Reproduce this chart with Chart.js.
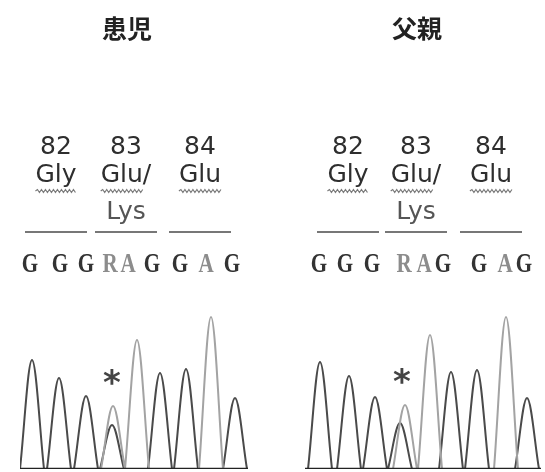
<!DOCTYPE html>
<html>
<head>
<meta charset="utf-8">
<script src="https://cdn.jsdelivr.net/npm/chart.js"></script>
<style>
  html, body { margin: 0; padding: 0; background: #fff; }
  #wrap { position: relative; width: 545px; height: 472px; }
  #childChart { position: absolute; left: 0; top: 0; }
  #fatherChart { position: absolute; left: 272px; top: 0; }
</style>
</head>
<body>
<div id="wrap">
  <canvas id="childChart" width="272" height="472"></canvas>
  <canvas id="fatherChart" width="273" height="472"></canvas>
</div>
<script>
// codons shown above both traces
var codonNumbers = ['82', '83', '84'];
var aminoAcids = [['Gly'], ['Glu/', 'Lys'], ['Glu']];
var baseCalls = ['G', 'G', 'G', 'R', 'A', 'G', 'G', 'A', 'G'];

// 患児 - peaks in scan units, heights in signal units
var childGPos = [12, 39, 66, 92, 140, 166, 215];
var childGHeight = [109, 91, 73, 44, 96, 100, 71];
var childAPos = [93, 117, 191];
var childAHeight = [63, 129, 152];
var childCallPos = [10, 40, 66, 90, 108, 132, 160, 186, 212];
var childCodonPos = [36, 106, 180];
var childScan = [0, 228];
var childMark = 92;

// 父親
var fatherGPos = [15, 44, 70, 95, 146, 172, 222];
var fatherGHeight = [107, 93, 72, 46, 97, 99, 71];
var fatherAPos = [100, 125, 201];
var fatherAHeight = [64, 134, 152];
var fatherCallPos = [14, 40, 67, 99, 119, 138, 174, 200, 219];
var fatherCodonPos = [43, 111, 186];
var fatherScan = [0, 236];
var fatherMark = 97;

var peakHalfWidth = 12;   // scan units from apex to foot
var codonHalfSpan = 31;   // half length of the bar over a codon
var signalMax = 160;

// one peak = left foot, apex, right foot, then a gap
function trace(pos, height) {
  var pts = [];
  for (var i = 0; i < pos.length; i++) {
    pts.push({x: pos[i] - peakHalfWidth, y: 0});
    pts.push({x: pos[i], y: height[i]});
    pts.push({x: pos[i] + peakHalfWidth, y: 0});
    pts.push({x: pos[i] + peakHalfWidth, y: null});
  }
  return pts;
}

function wavy(ctx, x0, x1, y) {
  ctx.beginPath();
  var up = true;
  ctx.moveTo(x0, y);
  for (var x = x0 + 2; x <= x1; x += 2) {
    ctx.lineTo(x, up ? y - 1.5 : y + 1.5);
    up = !up;
  }
  ctx.stroke();
}

var codonLabels = {
  id: 'codonLabels',
  afterDatasetsDraw: function (chart, args, opts) {
    var ctx = chart.ctx;
    var xs = chart.scales.x, ys = chart.scales.y;
    ctx.save();
    ctx.textAlign = 'center';
    ctx.textBaseline = 'alphabetic';

    // sample name
    ctx.fillStyle = '#222';
    ctx.font = 'bold 25px "Noto Sans CJK JP"';
    ctx.fillText(opts.title, xs.getPixelForValue(opts.codonPos[1]) + 1, 38);

    opts.codonPos.forEach(function (pos, i) {
      var cx = xs.getPixelForValue(pos);
      ctx.font = '25px "DejaVu Sans"';
      ctx.fillStyle = '#2e2e2e';
      ctx.fillText(codonNumbers[i], cx, 154);

      var aa = aminoAcids[i];
      ctx.fillText(aa[0], cx, 182);
      var full = ctx.measureText(aa[0]).width;
      var word = ctx.measureText(aa[0].replace('/', '')).width;
      ctx.strokeStyle = '#7a7a7a';
      ctx.lineWidth = 1.2;
      wavy(ctx, cx - full / 2, cx - full / 2 + word, 191);
      if (aa[1]) {
        ctx.fillStyle = '#555';
        ctx.fillText(aa[1], cx, 219);
      }

      ctx.strokeStyle = '#777';
      ctx.lineWidth = 2;
      ctx.beginPath();
      ctx.moveTo(xs.getPixelForValue(pos - codonHalfSpan), 232);
      ctx.lineTo(xs.getPixelForValue(pos + codonHalfSpan), 232);
      ctx.stroke();
    });

    // called bases
    ctx.font = 'bold 27px "Liberation Serif"';
    opts.callPos.forEach(function (pos, i) {
      ctx.save();
      ctx.translate(xs.getPixelForValue(pos), 272);
      ctx.scale(0.78, 1);
      ctx.fillStyle = baseCalls[i] === 'G' ? '#333' : '#8c8c8c';
      ctx.fillText(baseCalls[i], 0, 0);
      ctx.restore();
    });

    // heterozygous site
    ctx.font = 'bold 34px "DejaVu Sans"';
    ctx.fillStyle = '#444';
    var m = ctx.measureText('*');
    var my = ys.getPixelForValue(opts.markTop) - 29;
    ctx.fillText('*', xs.getPixelForValue(opts.mark), my + (m.actualBoundingBoxAscent - m.actualBoundingBoxDescent) / 2);
    ctx.restore();
  }
};

function makeChart(id, title, gPos, gHeight, aPos, aHeight, scan, codonPos, callPos, mark, markTop, pad) {
  return new Chart(document.getElementById(id).getContext('2d'), {
    type: 'line',
    data: {
      datasets: [
        {data: [{x: scan[0], y: 0}, {x: scan[1], y: 0}], borderColor: '#222', borderWidth: 2.5, tension: 0},
        {data: trace(aPos, aHeight), borderColor: '#a3a3a3', borderWidth: 2},
        {data: trace(gPos, gHeight), borderColor: '#4a4a4a', borderWidth: 2}
      ]
    },
    options: {
      responsive: false,
      animation: false,
      elements: {
        point: {radius: 0},
        line: {tension: 0.35, fill: false}
      },
      layout: {padding: pad},
      scales: {
        x: {type: 'linear', min: scan[0], max: scan[1], display: false},
        y: {min: 0, max: signalMax, display: false}
      },
      plugins: {
        legend: {display: false},
        tooltip: {enabled: false},
        codonLabels: {title: title, codonPos: codonPos, callPos: callPos, mark: mark, markTop: markTop}
      }
    },
    plugins: [codonLabels]
  });
}

makeChart('childChart', '患児', childGPos, childGHeight, childAPos, childAHeight,
  childScan, childCodonPos, childCallPos, childMark, childAHeight[0],
  {left: 20, right: 24, top: 309, bottom: 3});
makeChart('fatherChart', '父親', fatherGPos, fatherGHeight, fatherAPos, fatherAHeight,
  fatherScan, fatherCodonPos, fatherCallPos, fatherMark, fatherAHeight[0],
  {left: 33, right: 4, top: 309, bottom: 3});
</script>
</body>
</html>
